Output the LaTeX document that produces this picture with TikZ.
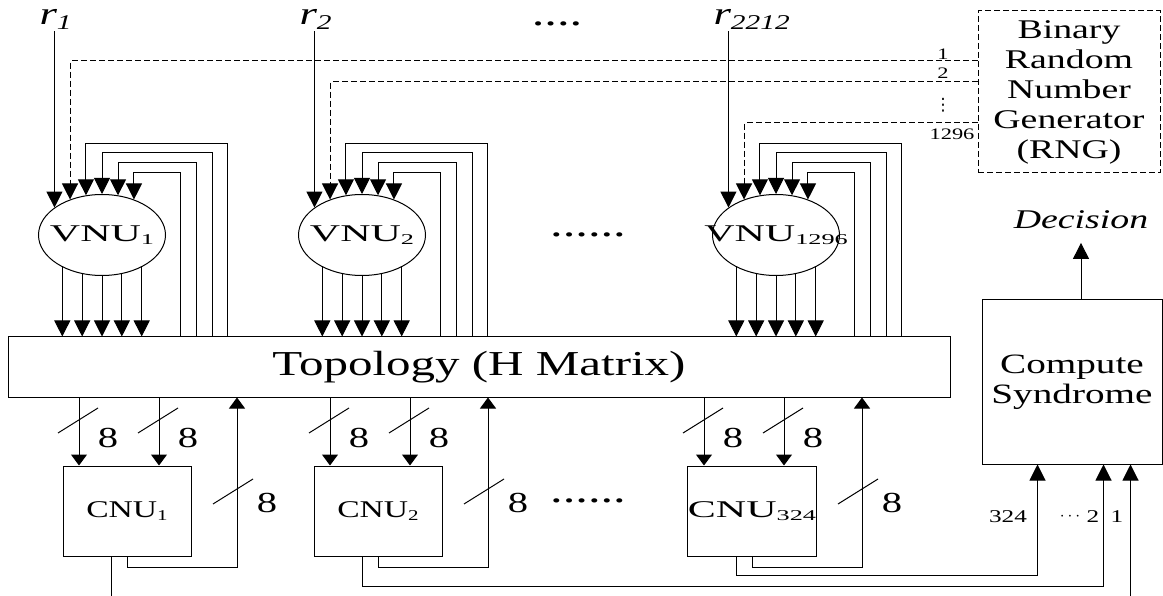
\documentclass[tikz,border=0pt]{standalone}
\usepackage{fontspec}
\setmainfont{Liberation Serif}[FakeStretch=1.4]
\newfontfamily\widefont{Liberation Serif}[FakeStretch=1.75]
\newfontfamily\symfont{DejaVu Sans}
\usepackage{tikz}
\usetikzlibrary{arrows.meta,positioning,shapes.geometric}

% lowered indices of the unit names
\newcommand{\idx}[1]{\raisebox{-3pt}{\fontsize{15}{15}\selectfont #1}}
\newcommand{\ridx}[1]{\raisebox{-5pt}{\fontsize{21}{21}\selectfont #1}}

\tikzset{
  arr/.style={-{Triangle[length=16pt,width=16pt]}},
  sarr/.style={-{Triangle[length=11pt,width=16pt]}},
  rdash/.style={dash pattern=on 6pt off 3pt},
  vnu/.style={ellipse, draw, minimum width=127pt, minimum height=81pt, inner sep=0pt},
  cnu/.style={draw, minimum width=128pt, minimum height=90pt, inner sep=0pt},
  rlab/.style={font=\fontsize{32}{32}\selectfont\itshape, inner sep=1pt},
  bus/.style={font=\fontsize{29}{29}\selectfont, inner sep=0pt},
  small/.style={font=\fontsize{18}{18}\selectfont, inner sep=0pt},
  dots/.style={font=\fontsize{36}{36}\selectfont, inner sep=0pt, anchor=base}
}

\begin{document}
\begin{tikzpicture}[x=1pt, y=-1pt, line width=1pt]
\useasboundingbox (0,0) rectangle (1163,596);
\clip (0,0) rectangle (1163,596);

% boxes
\node[draw, minimum width=942pt, minimum height=60pt, inner sep=0pt,
      font=\fontsize{35}{35}\selectfont] (topo) at (479,367) {Topology (H Matrix)};
\node[draw, rdash, minimum width=182pt, minimum height=162pt, inner sep=0pt,
      align=center, font=\fontsize{27}{30}\selectfont] (rng) at (1069,92)
      {Binary\\Random\\Number\\Generator\\(RNG)};
\node[draw, minimum width=180pt, minimum height=164pt, inner sep=0pt,
      align=center, font=\fontsize{28}{30}\selectfont] (comp) at (1072,382)
      {Compute\\Syndrome};
\node[font=\fontsize{27}{27}\selectfont\itshape] (dec) at (1081,220) {Decision};
\draw[arr] (dec.south |- comp.north) -- ([yshift=-10pt]dec.south);

% variable node units
\foreach \i/\cx/\vs/\rs/\dy in {1/102/1/1/61, 2/362/2/2/82, 3/776/1296/2212/123} {
  \node[vnu, label={[name=vt\i, font=\widefont\fontsize{24}{24}\selectfont]center:VNU\idx{\vs}}]
       (vnu\i) at (\cx,235) {};
  \node[rlab, anchor=base west] (r\i) at (\cx-64,25) {r\ridx{\rs}};
  \draw[arr] (vnu\i.150 |- r\i.south) -- (vnu\i.150);
  \draw[rdash, arr] (rng.west |- 0,\dy) -| (vnu\i.132);
  \foreach \dx/\h/\a in {125/144/112, 110/153/90, 94/163/68, 78/173/48}
    \draw[arr] (\cx+\dx,0 |- topo.north) -- (\cx+\dx,\h) -| (vnu\i.\a);
  \foreach \a in {219,243,270,297,321}
    \draw[arr] (vnu\i.\a) -- (vnu\i.\a |- topo.north);
}

% check node units
\foreach \i/\cx/\s/\fnt in {1/127/1/\rmfamily, 2/378/2/\rmfamily, 3/752/324/\widefont} {
  \node[cnu, font=\fnt\fontsize{24}{24}\selectfont] (cnu\i) at (\cx,511) {CNU\idx{\s}};
  \foreach \dx/\k in {-48/a, 32/b} {
    \draw[sarr] (\cx+\dx,0 |- topo.south) -- (\cx+\dx,0 |- cnu\i.north);
    \draw (\cx+\dx-21,433) -- (\cx+\dx+19,408);
    \node[bus] (w\k\i) at (\cx+\dx+29,438) {8};
  }
  \draw[sarr] (cnu\i.south) -- ++(0,11) -| (\cx+110,0 |- topo.south);
  \draw (\cx+86,504) -- (\cx+126,479);
  \node[bus] (wc\i) at (\cx+140,503) {8};
}

% syndrome inputs
\draw[arr] ([xshift=-16pt]cnu3.south) -- ++(0,19) -| ([xshift=56pt]comp.south west);
\draw[arr] ([xshift=-16pt]cnu2.south) -- ++(0,30) -| ([xshift=122pt]comp.south west);
\draw[arr] ([xshift=-16pt]cnu1.south) -- ++(0,50) -| ([xshift=149pt]comp.south west);

% labels
\node[small] (n324) at (1008,517) {324};
\node[small] (ncd) at (1070,517) {$\cdots$};
\node[small] (n2) at (1093,517) {2};
\node[small] (n1) at (1117,517) {1};
\node[small, font=\fontsize{16}{16}\selectfont] (l1) at (943,54) {1};
\node[small, font=\fontsize{16}{16}\selectfont] (l2) at (943,73) {2};
\node[small, font=\symfont\fontsize{17}{17}\selectfont] (lvd) at (943,105) {⋮};
\node[small, font=\fontsize{16}{16}\selectfont] (l1296) at (952,134) {1296};
\node[dots] (d1) at (557,26) {....};
\node[dots] (d2) at (588,237) {......};
\node[dots] (d3) at (588,502) {......};
\end{tikzpicture}
\end{document}
